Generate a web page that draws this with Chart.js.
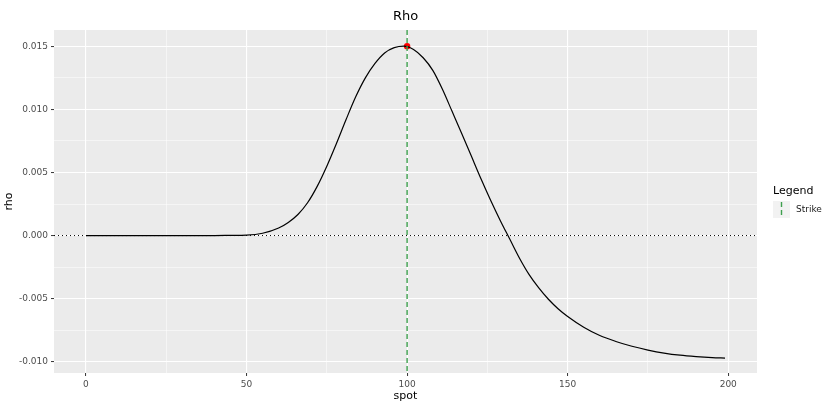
<!DOCTYPE html>
<html>
<head>
<meta charset="utf-8">
<title>Rho</title>
<script src="https://cdn.jsdelivr.net/npm/chart.js@4/dist/chart.umd.min.js"></script>
<style>
  html, body { margin: 0; padding: 0; background: #fff; }
  #wrap { width: 827px; height: 406px; position: relative; }
</style>
</head>
<body>
<div id="wrap"><canvas id="rhoChart"></canvas></div>
<script>
// values
const spot = [0, 10, 20, 30, 40, 45, 50, 55, 60, 63, 66, 69, 72, 75, 78, 81, 84, 87, 90, 93, 96, 99,
  102, 105, 108, 111, 114, 117, 120, 123, 126, 129, 132, 135, 138, 141, 144, 147, 150,
  155, 160, 165, 170, 175, 180, 185, 190, 195, 199];
const rho = [0, 0, 0, 0, 0, 0.00001, 0.00003, 0.00018, 0.00060, 0.00104, 0.00167, 0.00260, 0.00390, 0.00550,
  0.00730, 0.00920, 0.01100, 0.01250, 0.01365, 0.01448, 0.01490, 0.01502,
  0.01475, 0.01410, 0.01310, 0.01160, 0.00985, 0.00810, 0.00630, 0.00450, 0.00280, 0.00120,
  -0.00030, -0.00180, -0.00310, -0.00415, -0.00505, -0.00580, -0.00642,
  -0.00727, -0.00793, -0.00840, -0.00878, -0.00908, -0.00932, -0.00949, -0.00960, -0.00968, -0.00972];

const strike = 100;
const strikeRho = 0.01502;

const xTicks = [0, 50, 100, 150, 200];
const xMinor = [25, 75, 125, 175];
const yTicks = [-0.010, -0.005, 0, 0.005, 0.010, 0.015];
const yMinor = [-0.0075, -0.0025, 0.0025, 0.0075, 0.0125];

const xLimits = [-9.95, 208.95];
const yLimits = [-0.0109, 0.0163];

const FONT = "'DejaVu Sans', sans-serif";
const isMajor = (list, v) => list.some(t => Math.abs(t - v) < 1e-9);

const panelAndRefLines = {
  id: 'panelAndRefLines',
  beforeDraw(chart) {
    const { ctx, chartArea: a } = chart;
    ctx.save();
    ctx.fillStyle = '#EBEBEB';
    ctx.fillRect(a.left, a.top, a.right - a.left, a.bottom - a.top);
    ctx.restore();
  },
  afterDatasetDraw(chart, args) {
    if (args.index !== 0) return;
    const { ctx, chartArea: a, scales } = chart;
    const y0 = scales.y.getPixelForValue(0);
    const xs = scales.x.getPixelForValue(strike);
    ctx.save();
    // zero line, dotted
    ctx.strokeStyle = '#000';
    ctx.lineWidth = 1;
    ctx.setLineDash([1, 3]);
    ctx.beginPath();
    ctx.moveTo(a.left, y0);
    ctx.lineTo(a.right, y0);
    ctx.stroke();
    // strike line, dashed green
    ctx.strokeStyle = '#3FA04F';
    ctx.lineWidth = 1.4;
    ctx.setLineDash([5, 3]);
    ctx.beginPath();
    ctx.moveTo(xs, a.top);
    ctx.lineTo(xs, a.bottom);
    ctx.stroke();
    ctx.restore();
  },
  afterDraw(chart) {
    // legend on the right
    const { ctx } = chart;
    ctx.save();
    ctx.fillStyle = '#000';
    ctx.font = '11px ' + FONT;
    ctx.textBaseline = 'middle';
    ctx.textAlign = 'left';
    ctx.fillText('Legend', 773, 191);
    ctx.fillStyle = '#F2F2F2';
    ctx.fillRect(773, 201, 17, 17);
    ctx.strokeStyle = '#3FA04F';
    ctx.lineWidth = 1.4;
    ctx.setLineDash([5, 3]);
    ctx.beginPath();
    ctx.moveTo(781.5, 202);
    ctx.lineTo(781.5, 218);
    ctx.stroke();
    ctx.fillStyle = '#1A1A1A';
    ctx.font = '9px ' + FONT;
    ctx.fillText('Strike', 796, 210);
    ctx.restore();
  }
};

new Chart(document.getElementById('rhoChart'), {
  type: 'line',
  data: {
    datasets: [{
      label: 'rho',
      data: spot.map((s, i) => ({ x: s, y: rho[i] })),
      borderColor: '#000',
      borderWidth: 1.2,
      pointRadius: 0,
      fill: false,
      cubicInterpolationMode: 'monotone'
    }, {
      label: 'strike point',
      data: [{ x: strike, y: strikeRho }],
      showLine: false,
      pointRadius: 3.2,
      pointBackgroundColor: '#FF0000',
      pointBorderColor: '#FF0000',
      pointBorderWidth: 0
    }]
  },
  options: {
    responsive: true,
    maintainAspectRatio: false,
    animation: false,
    layout: { padding: { left: 0, right: 70, top: 0, bottom: 0 } },
    plugins: {
      legend: { display: false },
      tooltip: { enabled: false },
      title: {
        display: true,
        text: 'Rho',
        fullSize: false,
        color: '#000',
        font: { family: FONT, size: 13, weight: 'normal' },
        padding: { top: 9, bottom: 5.4 }
      }
    },
    scales: {
      x: {
        type: 'linear',
        min: xLimits[0],
        max: xLimits[1],
        afterBuildTicks: scale => {
          scale.ticks = [...xTicks, ...xMinor].sort((a, b) => a - b).map(v => ({ value: v }));
        },
        afterFit: scale => { scale.height = 33; },
        border: { display: false },
        grid: {
          color: '#FFFFFF',
          lineWidth: c => isMajor(xTicks, c.tick.value) ? 1.1 : 0.5,
          tickColor: c => isMajor(xTicks, c.tick.value) ? '#333333' : 'rgba(0,0,0,0)',
          tickLength: 3,
          tickWidth: 1
        },
        ticks: {
          autoSkip: false,
          maxRotation: 0,
          padding: 3,
          color: '#4D4D4D',
          font: { family: FONT, size: 9 },
          callback: v => isMajor(xTicks, v) ? String(v) : ''
        },
        title: {
          display: true,
          text: 'spot',
          color: '#000',
          font: { family: FONT, size: 11 },
          padding: { top: 0, bottom: 3 }
        }
      },
      y: {
        type: 'linear',
        min: yLimits[0],
        max: yLimits[1],
        afterBuildTicks: scale => {
          scale.ticks = [...yTicks, ...yMinor].sort((a, b) => a - b).map(v => ({ value: v }));
        },
        afterFit: scale => { scale.width = 54; },
        border: { display: false },
        grid: {
          color: '#FFFFFF',
          lineWidth: c => isMajor(yTicks, c.tick.value) ? 1.1 : 0.5,
          tickColor: c => isMajor(yTicks, c.tick.value) ? '#333333' : 'rgba(0,0,0,0)',
          tickLength: 3,
          tickWidth: 1
        },
        ticks: {
          autoSkip: false,
          padding: 3,
          color: '#4D4D4D',
          font: { family: FONT, size: 9 },
          callback: v => isMajor(yTicks, v) ? v.toFixed(3) : ''
        },
        title: {
          display: true,
          text: 'rho',
          color: '#000',
          font: { family: FONT, size: 11 },
          padding: { top: 3, bottom: 0 }
        }
      }
    }
  },
  plugins: [panelAndRefLines]
});
</script>
</body>
</html>
